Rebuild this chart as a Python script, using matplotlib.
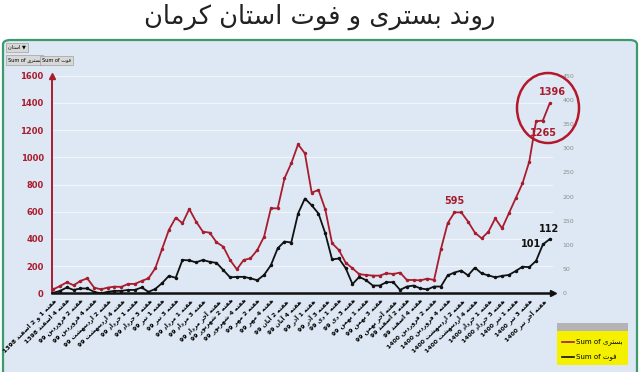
import matplotlib
matplotlib.use('Agg')
import matplotlib.pyplot as plt
from matplotlib.patches import FancyBboxPatch, Ellipse, Rectangle

# داده ها
weeks = ['هفته 1 و 2 اسفند 1398', 'هفته 4 اسفند 1398', 'هفته 2 فروردین 99', 'هفته 4 فروردین 99',
         'هفته 2 اردیبهشت 99', 'هفته 4 اردیبهشت 99', 'هفته 1 خرداد 99', 'هفته 3 خرداد 99',
         'هفته 1 تیر 99', 'هفته 3 تیر 99', 'هفته 1 مرداد 99', 'هفته 3 مرداد 99',
         'هفته آخر مرداد 99', 'هفته 2 شهریور 99', 'هفته 4 شهریور 99', 'هفته 2 مهر 99',
         'هفته 4 مهر 99', 'هفته 2 آبان 99', 'هفته 4 آبان 99', 'هفته 1 آذر 99',
         'هفته 3 آذر 99', 'هفته 1 دی 99', 'هفته 3 دی 99', 'هفته 1 بهمن 99',
         'هفته 3 بهمن 99', 'هفته آخر بهمن 99', 'هفته 2 اسفند 99', 'هفته 4 اسفند 99',
         'هفته 2 فروردین 1400', 'هفته 4 فروردین 1400', 'هفته 2 اردیبهشت 1400',
         'هفته 4 اردیبهشت 1400', 'هفته 1 خرداد 1400', 'هفته 3 خرداد 1400',
         'هفته 1 تیر 1400', 'هفته 3 تیر 1400', 'هفته آخر تیر 1400']

# بستری (محور چپ)
hospital = [29, 54, 81, 59, 91, 110, 42, 29, 42, 49, 47, 69, 69, 91, 110, 184, 326, 466, 556, 515,
            620, 527, 453, 446, 375, 343, 245, 176, 245, 257, 318, 416, 625, 625, 845, 956, 1095,
            1029, 740, 760, 617, 368, 318, 225, 184, 140, 135, 130, 130, 147, 142, 152, 98, 98,
            95, 108, 98, 323, 515, 595, 595, 527, 446, 404, 453, 551, 478, 588, 698, 808, 968,
            1265, 1270, 1396]
# فوت (محور راست)
deaths = [1, 5, 12, 7, 10, 10, 3, 0, 3, 5, 5, 7, 7, 12, 3, 9, 21, 36, 32, 69, 68, 64, 69, 65, 63,
          48, 33, 34, 34, 31, 27, 38, 58, 93, 107, 105, 165, 196, 182, 165, 124, 70, 72, 52, 19,
          34, 27, 16, 16, 23, 23, 7, 14, 16, 10, 8, 14, 14, 37, 43, 47, 37, 53, 41, 37, 33, 36,
          38, 46, 55, 54, 67, 101, 112]

title = 'روند بستری و فوت استان کرمان'

# شکل حروف فارسی (matplotlib خودش اتصال حروف را انجام نمی دهد)
FORMS = {
    'ا': ('\uFE8D', '\uFE8E', None, None), 'آ': ('\uFE81', '\uFE82', None, None),
    'ب': ('\uFE8F', '\uFE90', '\uFE91', '\uFE92'), 'ت': ('\uFE95', '\uFE96', '\uFE97', '\uFE98'),
    'خ': ('\uFEA5', '\uFEA6', '\uFEA7', '\uFEA8'), 'د': ('\uFEA9', '\uFEAA', None, None),
    'ذ': ('\uFEAB', '\uFEAC', None, None), 'ر': ('\uFEAD', '\uFEAE', None, None),
    'ز': ('\uFEAF', '\uFEB0', None, None), 'س': ('\uFEB1', '\uFEB2', '\uFEB3', '\uFEB4'),
    'ش': ('\uFEB5', '\uFEB6', '\uFEB7', '\uFEB8'), 'ف': ('\uFED1', '\uFED2', '\uFED3', '\uFED4'),
    'ک': ('\uFB8E', '\uFB8F', '\uFB90', '\uFB91'), 'م': ('\uFEE1', '\uFEE2', '\uFEE3', '\uFEE4'),
    'ن': ('\uFEE5', '\uFEE6', '\uFEE7', '\uFEE8'), 'ه': ('\uFEE9', '\uFEEA', '\uFEEB', '\uFEEC'),
    'و': ('\uFEED', '\uFEEE', None, None), 'ی': ('\uFBFC', '\uFBFD', '\uFBFE', '\uFBFF'),
}


def shape_word(w):
    if not any(c in FORMS for c in w):
        return w
    out = []
    for k, ch in enumerate(w):
        if ch not in FORMS:
            out.append(ch)
            continue
        prev = w[k - 1] if k > 0 else None
        nxt = w[k + 1] if k + 1 < len(w) else None
        jp = prev in FORMS and FORMS[prev][2] is not None
        jn = nxt in FORMS and FORMS[ch][2] is not None
        iso, fin, ini, med = FORMS[ch]
        if jp and jn:
            out.append(med)
        elif jp:
            out.append(fin)
        elif jn:
            out.append(ini)
        else:
            out.append(iso)
    return ''.join(reversed(out))


def fa(text):
    return ' '.join(shape_word(w) for w in reversed(text.split(' ')))


W, H = 640, 372
RED = '#a81c2d'

fig = plt.figure(figsize=(6.4, 3.72), dpi=100)

# پس زمینه آبی با قاب سبز
panel = FancyBboxPatch((3 / W, -0.05), 634 / W, (H - 40) / H + 0.05,
                       boxstyle='round,pad=0,rounding_size=0.012', transform=fig.transFigure,
                       fc='#dde8f4', ec='#3c9a6c', lw=1.6, zorder=-10)
fig.add_artist(panel)

fig.text(0.5, 1 - 17 / H, fa(title), ha='center', va='center', fontsize=18.5, color='#222222')

# دکمه های بالای نمودار
fig.text(8 / W, 1 - 47 / H, fa('استان') + ' \u25BC', fontsize=3.6, ha='left', va='center',
         bbox=dict(boxstyle='square,pad=0.4', fc='#d8d8d8', ec='#a0a0a0', lw=0.5))
fig.text(8 / W, 1 - 60 / H, 'Sum of ' + fa('بستری'), fontsize=3.6, ha='left', va='center',
         bbox=dict(boxstyle='square,pad=0.4', fc='#d8d8d8', ec='#a0a0a0', lw=0.5))
fig.text(42 / W, 1 - 60 / H, 'Sum of ' + fa('فوت'), fontsize=3.6, ha='left', va='center',
         bbox=dict(boxstyle='square,pad=0.4', fc='#d8d8d8', ec='#a0a0a0', lw=0.5))

x = list(range(len(hospital)))
ax = fig.add_axes([52 / W, (H - 293.3) / H, 501 / W, 217.6 / H])
ax.patch.set_alpha(0)
ax.set_xlim(-0.19, 73.49)
ax.set_ylim(0, 1600)
ax.set_yticks(range(0, 1601, 200))
ax.grid(axis='y', color='#f1f5fb', lw=0.9)
ax.set_axisbelow(True)
ax.plot(x, hospital, color=RED, lw=1.3, marker='o', ms=1.5)

ax.set_xticks(x[::2])
ax.set_xticklabels([fa(w) for w in weeks], rotation=45, ha='right', rotation_mode='anchor',
                   fontsize=4.4, fontweight='bold')
ax.tick_params(axis='x', length=0, pad=3)
ax.tick_params(axis='y', length=0, pad=6, labelsize=6, labelcolor=RED)
for t in ax.get_yticklabels():
    t.set_fontweight('bold')
for s in ['top', 'right']:
    ax.spines[s].set_visible(False)
ax.spines['left'].set_color(RED)
ax.spines['left'].set_linewidth(1.4)
ax.spines['bottom'].set_color('#111111')
ax.spines['bottom'].set_linewidth(1.8)
ax.plot([0], [1], marker='^', color=RED, ms=4, transform=ax.transAxes, clip_on=False)
ax.plot([1], [0], marker='>', color='#111111', ms=4, transform=ax.transAxes, clip_on=False)

ax2 = ax.twinx()
ax2.set_ylim(0, 450)
ax2.set_yticks(range(0, 451, 50))
ax2.tick_params(axis='y', length=0, pad=7, labelsize=4.5, labelcolor='#8c8c8c')
for s in ax2.spines.values():
    s.set_visible(False)
ax2.plot(x, deaths, color='#111111', lw=1.3, marker='o', ms=1.5)

# برچسب مقادیر
ax.annotate('1396', (73, hospital[73]), xytext=(3, 11), textcoords='offset pixels',
            ha='center', va='center', fontsize=7, fontweight='bold', color=RED)
ax.annotate('1265', (71, hospital[71]), xytext=(7, -12), textcoords='offset pixels',
            ha='center', va='center', fontsize=7, fontweight='bold', color=RED)
ax.annotate('595', (59, hospital[59]), xytext=(0, 11), textcoords='offset pixels',
            ha='center', va='center', fontsize=7, fontweight='bold', color=RED)
ax2.annotate('112', (73, deaths[73]), xytext=(-1, 10), textcoords='offset pixels',
             ha='center', va='center', fontsize=7, fontweight='bold', color='#111111')
ax2.annotate('101', (72, deaths[72]), xytext=(-12, 0), textcoords='offset pixels',
             ha='center', va='center', fontsize=7, fontweight='bold', color='#111111')

# دایره قرمز دور نقاط آخر
fig.add_artist(Ellipse((548 / W, 1 - 108 / H), 62 / W, 70 / H, transform=fig.transFigure,
                       fill=False, ec='#b5172a', lw=1.8))

# راهنمای زرد
fig.add_artist(Rectangle((557 / W, 1 - 365 / H), 71 / W, 42 / H, transform=fig.transFigure,
                         fc='#f4f000', ec='none'))
fig.add_artist(Rectangle((557 / W, 1 - 331 / H), 71 / W, 8 / H, transform=fig.transFigure,
                         fc='#b4b4b4', ec='none'))
fig.add_artist(plt.Line2D([562 / W, 574 / W], [1 - 342 / H] * 2, transform=fig.transFigure,
                          color=RED, lw=1.2))
fig.text(576 / W, 1 - 342 / H, 'Sum of ' + fa('بستری'), fontsize=5, va='center', ha='left')
fig.add_artist(plt.Line2D([562 / W, 574 / W], [1 - 357 / H] * 2, transform=fig.transFigure,
                          color='#111111', lw=1.2))
fig.text(576 / W, 1 - 357 / H, 'Sum of ' + fa('فوت'), fontsize=5, va='center', ha='left')

fig.savefig('out.png', dpi=100)
